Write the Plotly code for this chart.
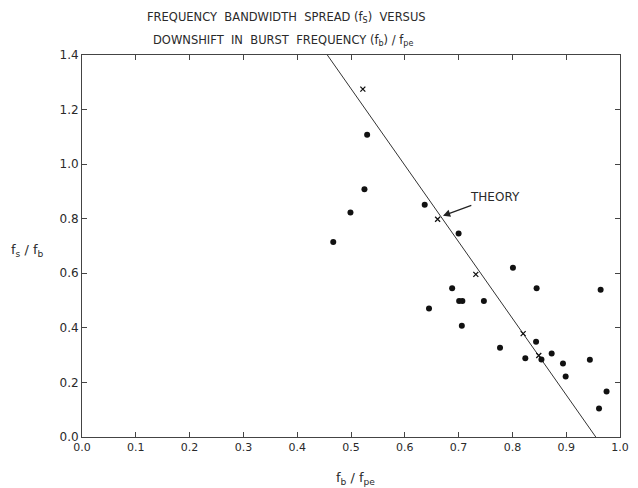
import plotly.graph_objects as go

# Measured data points (f_b/f_pe, f_s/f_b)
data_x = [0.467, 0.499, 0.525, 0.530, 0.637, 0.700, 0.801, 0.688, 0.845, 0.964,
          0.701, 0.707, 0.747, 0.645, 0.706, 0.844, 0.777, 0.873, 0.824, 0.854,
          0.944, 0.894, 0.899, 0.975, 0.961]
data_y = [0.715, 0.823, 0.908, 1.108, 0.851, 0.746, 0.620, 0.545, 0.545, 0.540,
          0.498, 0.498, 0.498, 0.471, 0.408, 0.349, 0.327, 0.306, 0.289, 0.284,
          0.283, 0.269, 0.222, 0.167, 0.104]

# Theory points (x markers)
theory_x = [0.522, 0.661, 0.732, 0.820, 0.849]
theory_y = [1.275, 0.798, 0.596, 0.379, 0.299]

# Theory line end points
line_x = [0.456, 0.955]
line_y = [1.4, 0.0]

x_ticks = [0.0, 0.1, 0.2, 0.3, 0.4, 0.5, 0.6, 0.7, 0.8, 0.9, 1.0]
y_ticks = [0.0, 0.2, 0.4, 0.6, 0.8, 1.0, 1.2, 1.4]

FONT = "DejaVu Sans"
INK = "#2a2a2a"

fig = go.Figure()
fig.add_trace(go.Scatter(x=line_x, y=line_y, mode="lines",
                         line=dict(color="#333333", width=1), hoverinfo="skip"))
fig.add_trace(go.Scatter(x=data_x, y=data_y, mode="markers",
                         marker=dict(symbol="circle", size=6, color="#111111")))
fig.add_trace(go.Scatter(x=theory_x, y=theory_y, mode="markers",
                         marker=dict(symbol="x-thin", size=5, color="#111111",
                                     line=dict(width=1.3, color="#111111"))))

axis_common = dict(showgrid=False, zeroline=False, showline=True, linecolor="#444444",
                   linewidth=1, mirror="ticks", ticks="inside", ticklen=5,
                   tickcolor="#444444", tickwidth=1, tickformat=".1f")

fig.update_xaxes(range=[0, 1.0], tickvals=x_ticks,
                 tickfont=dict(family=FONT, size=11, color=INK), **axis_common)
fig.update_yaxes(range=[0, 1.4], tickvals=y_ticks,
                 tickfont=dict(family=FONT, size=12, color=INK), **axis_common)

nb = "\u00a0"
title1 = f"FREQUENCY{nb}{nb}BANDWIDTH{nb}{nb}SPREAD{nb}(f<sub>S</sub>){nb}{nb}VERSUS"
title2 = f"DOWNSHIFT{nb}{nb}IN{nb}{nb}BURST{nb}{nb}FREQUENCY{nb}(f<sub>b</sub>){nb}/{nb}f<sub>pe</sub>"

fig.add_annotation(text=title1, xref="paper", yref="paper", x=(290 - 82) / 547, y=(437 - 18) / 382,
                   showarrow=False, xanchor="center", yanchor="middle",
                   font=dict(family=FONT, size=11.5, color=INK))
fig.add_annotation(text=title2, xref="paper", yref="paper", x=(286 - 82) / 547, y=(437 - 41) / 382,
                   showarrow=False, xanchor="center", yanchor="middle",
                   font=dict(family=FONT, size=11.5, color=INK))

fig.add_annotation(text=f"f<sub>s</sub>{nb}/{nb}f<sub>b</sub>", xref="paper", yref="paper",
                   x=(27 - 82) / 547, y=(437 - 250) / 382, showarrow=False,
                   xanchor="center", yanchor="middle",
                   font=dict(family=FONT, size=13, color=INK))
fig.add_annotation(text=f"f<sub>b</sub>{nb}/{nb}f<sub>pe</sub>", xref="paper", yref="paper",
                   x=(360 - 82) / 547, y=(437 - 478) / 382, showarrow=False,
                   xanchor="center", yanchor="middle",
                   font=dict(family=FONT, size=13, color=INK))

fig.add_annotation(text="THEORY", x=0.671, y=0.811, xref="x", yref="y",
                   ax=0.767, ay=0.880, axref="x", ayref="y",
                   showarrow=True, arrowhead=2, arrowsize=1.2, arrowwidth=1.2,
                   arrowcolor="#222222",
                   font=dict(family=FONT, size=12, color=INK))

fig.update_layout(width=638, height=488, showlegend=False,
                  margin=dict(l=82, r=9, t=55, b=51),
                  plot_bgcolor="white", paper_bgcolor="white")

fig.write_html("out.html")
